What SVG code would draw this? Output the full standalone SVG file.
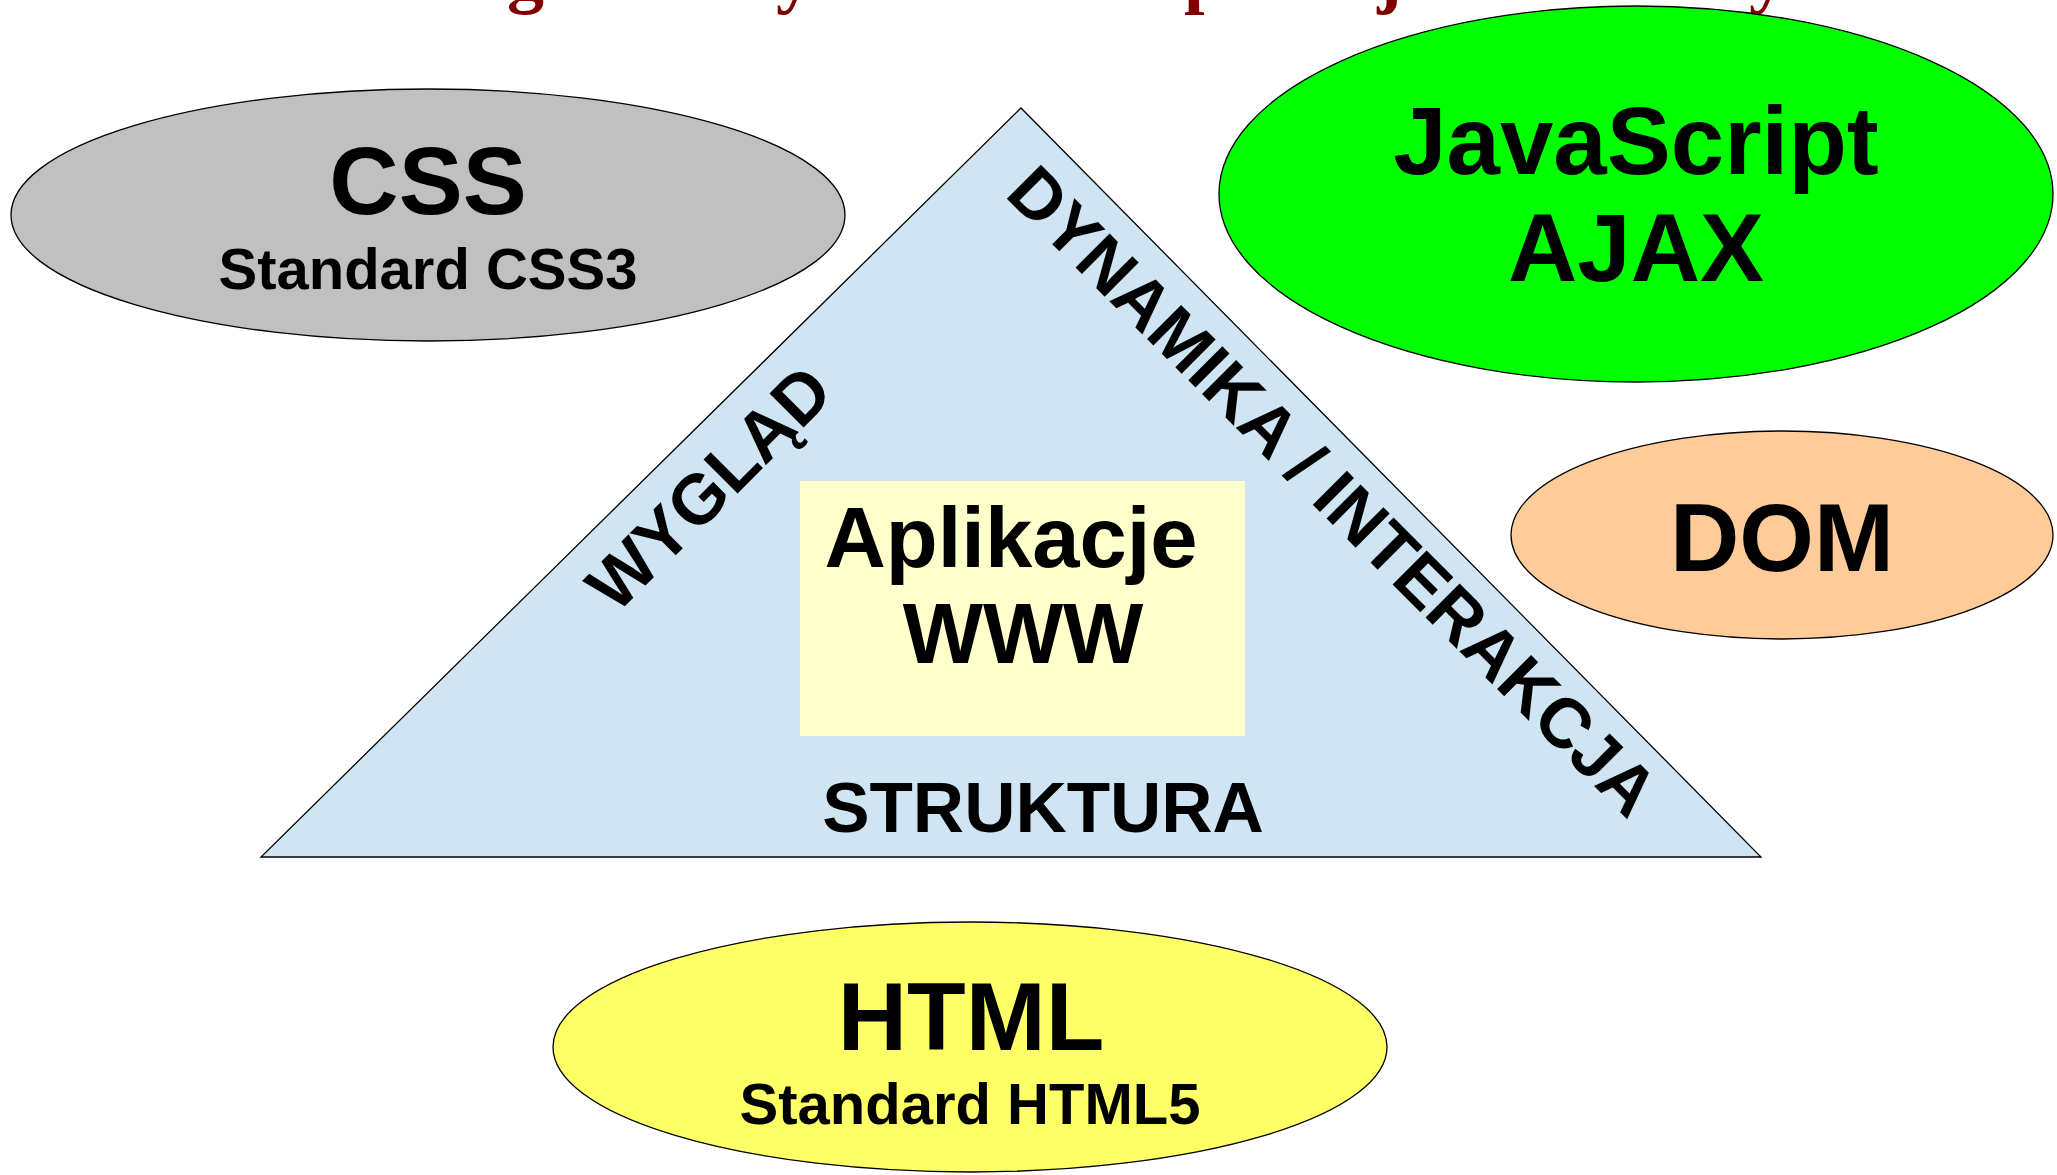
<svg xmlns="http://www.w3.org/2000/svg" width="2057" height="1175" viewBox="0 0 2057 1175">
  <style>
    .shape { stroke: #000000; stroke-width: 1.3; }
    .lbl { font-family: "Liberation Sans", Arial, sans-serif; font-weight: bold; fill: #000000; text-anchor: middle; }
    .big { font-size: 96px; }
    .sub { font-size: 58px; }
    .mid { font-size: 85px; }
    .side { font-size: 70px; }
    .title { font-family: "Liberation Serif", "Times New Roman", serif; font-weight: bold; font-size: 74px; fill: #800000; }
  </style>
  <rect x="0" y="0" width="2057" height="1175" fill="#ffffff"/>

  <g id="title">
    <text class="title" y="-1"><tspan x="222">Technologie</tspan><tspan x="702">używane</tspan><tspan x="1075">w</tspan><tspan x="1147">aplikacjach</tspan><tspan x="1531">webowych</tspan></text>
  </g>

  <g id="triangle">
    <polygon class="shape" points="1021,108 261,857 1761,857" fill="#cfe5f3"/>
    <text class="lbl side" transform="translate(726,505) rotate(-45)" x="0" y="0">WYGLĄD</text>
    <text class="lbl side" transform="translate(1316,508) rotate(45)" x="0" y="0">DYNAMIKA / INTERAKCJA</text>
    <text class="lbl side" x="1043" y="832" style="font-size:71px">STRUKTURA</text>
  </g>

  <g id="aplikacje">
    <rect x="800" y="481" width="445" height="255" fill="#ffffcc"/>
    <text class="lbl mid" x="1011" y="567">Aplikacje</text>
    <text class="lbl mid" x="1023" y="663">WWW</text>
  </g>

  <g id="css">
    <ellipse class="shape" cx="428" cy="215" rx="417" ry="126" fill="#c0c0c0"/>
    <text class="lbl big" x="428" y="214">CSS</text>
    <text class="lbl sub" x="428" y="289">Standard CSS3</text>
  </g>

  <g id="javascript">
    <ellipse class="shape" cx="1636" cy="194" rx="417" ry="188" fill="#00ff00"/>
    <text class="lbl big" x="1636" y="174">JavaScript</text>
    <text class="lbl big" x="1636" y="281">AJAX</text>
  </g>

  <g id="dom">
    <ellipse class="shape" cx="1782" cy="535" rx="271" ry="104" fill="#ffcc99"/>
    <text class="lbl big" x="1782" y="571">DOM</text>
  </g>

  <g id="html">
    <ellipse class="shape" cx="970" cy="1047" rx="417" ry="125" fill="#ffff66"/>
    <text class="lbl big" x="971" y="1050">HTML</text>
    <text class="lbl sub" x="970" y="1124">Standard HTML5</text>
  </g>

  <g id="connectors"/>
</svg>
